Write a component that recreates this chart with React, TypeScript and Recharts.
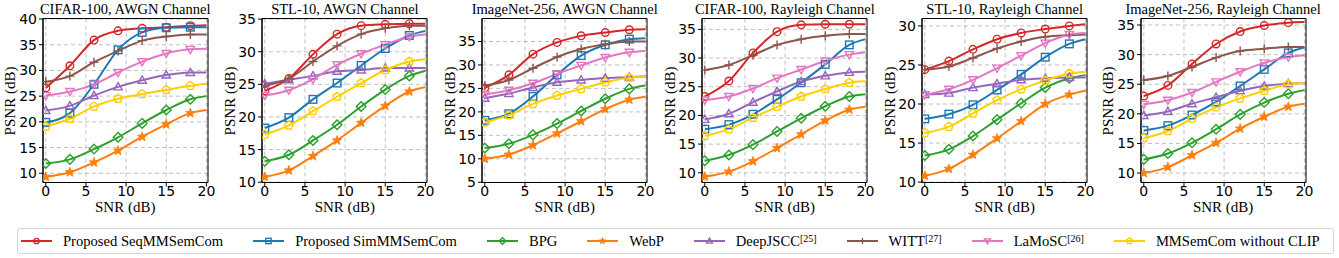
import React from 'react';
import { LineChart, Line, XAxis, YAxis, CartesianGrid, ReferenceArea } from 'recharts';

// SNR points; markers are drawn up to 18 dB, the curve runs on to 20 dB
const snr = [0, 3, 6, 9, 12, 15, 18, 20];

const seriesKeys = ['seq', 'sim', 'bpg', 'webp', 'deepjscc', 'witt', 'lamosc', 'noclip'];
const seriesNames = ['Proposed SeqMMSemCom', 'Proposed SimMMSemCom', 'BPG', 'WebP', 'DeepJSCC', 'WITT', 'LaMoSC', 'MMSemCom without CLIP'];
const seriesRefs = ['', '', '', '', '[25]', '[27]', '[26]', ''];

const panelTitles = [
  'CIFAR-100, AWGN Channel',
  'STL-10, AWGN Channel',
  'ImageNet-256, AWGN Channel',
  'CIFAR-100, Rayleigh Channel',
  'STL-10, Rayleigh Channel',
  'ImageNet-256, Rayleigh Channel',
];

// rows follow seriesKeys order
const cifarAwgn = [
  [26.6, 30.9, 35.9, 37.7, 38.2, 38.4, 38.7, 38.8],
  [19.9, 21.7, 27.3, 34.0, 37.4, 38.3, 38.4, 38.4],
  [11.9, 12.7, 14.7, 17.0, 19.7, 22.3, 24.4, 25.0],
  [9.3, 10.2, 12.1, 14.4, 17.1, 19.5, 21.7, 22.3],
  [22.2, 23.1, 25.1, 26.8, 28.1, 29.1, 29.6, 29.6],
  [27.8, 28.9, 31.6, 33.8, 35.8, 36.6, 37.0, 37.0],
  [25.1, 25.9, 27.3, 29.6, 31.7, 33.3, 34.1, 34.2],
  [19.1, 20.6, 23.0, 24.5, 25.4, 26.2, 27.0, 27.4],
];
const stlAwgn = [
  [24.0, 25.9, 29.6, 32.7, 34.0, 34.2, 34.3, 34.3],
  [18.3, 19.9, 22.7, 25.2, 27.9, 30.5, 32.5, 33.2],
  [13.2, 14.2, 16.4, 18.8, 21.6, 24.2, 26.3, 27.1],
  [10.8, 11.8, 14.0, 16.4, 19.1, 21.7, 23.9, 24.6],
  [25.1, 25.7, 26.3, 27.0, 27.2, 27.5, 27.5, 27.5],
  [24.8, 25.9, 28.5, 30.9, 32.7, 33.6, 34.0, 34.0],
  [23.3, 24.1, 25.8, 28.0, 29.7, 31.1, 32.3, 32.7],
  [17.3, 18.7, 20.9, 23.1, 25.2, 27.2, 28.5, 28.9],
];
const imagenetAwgn = [
  [25.1, 27.9, 32.3, 34.8, 36.2, 36.9, 37.5, 37.6],
  [18.2, 19.6, 23.3, 27.9, 32.0, 34.3, 35.5, 35.7],
  [12.3, 13.2, 15.1, 17.5, 20.2, 22.8, 24.9, 25.6],
  [10.0, 10.9, 12.9, 15.4, 18.0, 20.6, 22.6, 23.2],
  [22.9, 23.9, 25.2, 26.3, 26.8, 27.2, 27.4, 27.6],
  [25.6, 26.8, 29.3, 31.7, 33.4, 34.4, 35.0, 35.0],
  [23.7, 24.6, 26.1, 28.1, 29.9, 31.6, 32.7, 33.0],
  [17.8, 19.3, 21.7, 23.5, 24.9, 26.3, 27.3, 27.7],
];
const cifarRayleigh = [
  [23.3, 26.0, 30.9, 34.6, 35.8, 35.9, 35.9, 35.9],
  [17.6, 18.4, 20.2, 22.8, 25.7, 28.9, 32.3, 33.3],
  [12.1, 13.1, 14.9, 17.2, 19.5, 21.6, 23.3, 23.7],
  [9.3, 10.2, 12.0, 14.3, 16.7, 19.1, 21.0, 21.5],
  [19.3, 20.3, 22.3, 24.2, 25.9, 26.9, 27.5, 27.6],
  [27.9, 28.8, 30.5, 32.3, 33.3, 33.9, 34.2, 34.2],
  [22.7, 23.3, 24.7, 26.5, 28.0, 29.5, 30.6, 31.0],
  [16.4, 17.6, 19.6, 21.5, 23.3, 24.6, 25.7, 26.0],
];
const stlRayleigh = [
  [24.4, 25.5, 27.0, 28.3, 29.1, 29.6, 30.0, 30.2],
  [18.1, 18.7, 19.9, 21.8, 23.8, 26.0, 27.7, 28.3],
  [13.4, 14.2, 15.9, 18.0, 20.1, 22.1, 23.3, 23.7],
  [10.8, 11.7, 13.5, 15.6, 17.8, 20.0, 21.2, 21.7],
  [21.2, 21.4, 22.1, 22.6, 23.1, 23.3, 23.4, 23.4],
  [24.4, 24.8, 25.9, 27.1, 28.0, 28.6, 28.8, 28.9],
  [21.2, 21.9, 23.1, 24.6, 26.2, 27.8, 28.9, 29.1],
  [16.3, 17.1, 18.8, 20.5, 21.9, 23.0, 23.9, 24.1],
];
const imagenetRayleigh = [
  [23.0, 24.8, 28.4, 31.8, 33.9, 34.9, 35.4, 35.5],
  [17.2, 18.0, 19.8, 22.0, 24.7, 27.5, 30.3, 31.2],
  [12.3, 13.3, 15.1, 17.4, 19.9, 21.9, 23.4, 24.0],
  [10.0, 11.0, 13.0, 15.1, 17.5, 19.5, 21.2, 21.7],
  [19.7, 20.4, 21.7, 22.8, 23.9, 24.7, 25.1, 25.2],
  [25.7, 26.4, 27.9, 29.5, 30.6, 31.0, 31.3, 31.3],
  [21.6, 22.3, 23.6, 25.4, 27.1, 28.6, 29.6, 29.9],
  [15.9, 17.1, 19.2, 21.1, 22.6, 23.9, 25.0, 25.2],
];
const panelValues = [cifarAwgn, stlAwgn, imagenetAwgn, cifarRayleigh, stlRayleigh, imagenetRayleigh];

const xTicks = [0, 5, 10, 15, 20];
const yTicks = [
  [10, 15, 20, 25, 30, 35, 40],
  [10, 15, 20, 25, 30, 35],
  [5, 10, 15, 20, 25, 30, 35],
  [10, 15, 20, 25, 30, 35],
  [10, 15, 20, 25, 30],
  [10, 15, 20, 25, 30, 35],
];
const yDomains: [number, number][] = [
  [8.2, 40.1],
  [9.95, 35.1],
  [4.95, 39.9],
  [8.3, 36.9],
  [9.95, 30.95],
  [8.4, 36.1],
];
const xDomain: [number, number] = [-0.35, 20.2];

// layout / style
const plotLefts = [42.7, 262.4, 482.3, 702.3, 922.2, 1140.6];
const plotW = 165;
const plotTop = 18.5;
const plotH = 164;
const yAxisW = 46;
const rightPad = 14;
const colors = ['#d62728', '#1f77b4', '#2ca02c', '#ff7f0e', '#9467bd', '#8c564b', '#e377c2', '#ffcf00'];
const markers = ['circle', 'square', 'diamond', 'star', 'triUp', 'plus', 'triDown', 'pentagon'];
const serif = '"Liberation Serif", "Times New Roman", serif';
const sans = '"DejaVu Sans", sans-serif';

function polyPoints(cx: number, cy: number, r: number, n: number, rot: number, inner?: number) {
  const pts: string[] = [];
  const count = inner ? n * 2 : n;
  for (let i = 0; i < count; i++) {
    const rr = inner && i % 2 === 1 ? inner : r;
    const a = rot + (i * Math.PI * 2) / count;
    pts.push(`${cx + rr * Math.sin(a)},${cy - rr * Math.cos(a)}`);
  }
  return pts.join(' ');
}

function Marker({ kind, cx, cy, color, s = 1 }: { kind: string; cx: number; cy: number; color: string; s?: number }) {
  const sw = 1.4;
  switch (kind) {
    case 'circle':
      return <circle cx={cx} cy={cy} r={3.8 * s} fill="none" stroke={color} strokeWidth={sw} />;
    case 'square':
      return <rect x={cx - 3.8 * s} y={cy - 3.8 * s} width={7.6 * s} height={7.6 * s} fill="none" stroke={color} strokeWidth={sw} />;
    case 'diamond':
      return <polygon points={polyPoints(cx, cy, 4.8 * s, 4, 0)} fill="none" stroke={color} strokeWidth={sw} />;
    case 'star':
      return <polygon points={polyPoints(cx, cy, 5 * s, 5, 0, 2.1 * s)} fill={color} stroke={color} strokeWidth={0.8} />;
    case 'triUp':
      return <polygon points={polyPoints(cx, cy + 0.6 * s, 4.8 * s, 3, 0)} fill="none" stroke={color} strokeWidth={sw} />;
    case 'triDown':
      return <polygon points={polyPoints(cx, cy - 0.6 * s, 4.8 * s, 3, Math.PI)} fill="none" stroke={color} strokeWidth={sw} />;
    case 'plus':
      return (
        <g stroke={color} strokeWidth={sw}>
          <line x1={cx - 4.5 * s} y1={cy} x2={cx + 4.5 * s} y2={cy} />
          <line x1={cx} y1={cy - 4.5 * s} x2={cx} y2={cy + 4.5 * s} />
        </g>
      );
    default:
      return <polygon points={polyPoints(cx, cy, 4.4 * s, 5, 0)} fill="none" stroke={color} strokeWidth={sw} />;
  }
}

function Panel({ idx }: { idx: number }) {
  const values = panelValues[idx];
  const rows = snr.map((x, i) => {
    const r: Record<string, number> = { snr: x };
    seriesKeys.forEach((k, s) => {
      r[k] = values[s][i];
    });
    return r;
  });
  const left = plotLefts[idx];
  const [y0, y1] = yDomains[idx];
  return (
    <>
      <div style={{ position: 'absolute', left: left - yAxisW, top: 0 }}>
        <LineChart
          width={yAxisW + plotW + rightPad}
          height={plotTop + plotH + 16}
          data={rows}
          margin={{ top: plotTop, right: rightPad, bottom: 0, left: 0 }}
        >
          <CartesianGrid stroke="#b0b0b0" strokeDasharray="4 3" strokeWidth={0.8} />
          <XAxis
            dataKey="snr"
            type="number"
            domain={xDomain}
            ticks={xTicks}
            interval={0}
            allowDataOverflow
            height={16}
            tickSize={4}
            tickMargin={0}
            tick={{ fontSize: 14, fill: '#000', fontFamily: sans }}
            tickLine={{ stroke: '#000' }}
            axisLine={{ stroke: '#000' }}
          />
          <YAxis
            type="number"
            domain={yDomains[idx]}
            ticks={yTicks[idx]}
            interval={0}
            allowDataOverflow
            width={yAxisW}
            tickSize={4}
            tickMargin={2}
            tick={{ fontSize: 14, fill: '#000', fontFamily: sans }}
            tickLine={{ stroke: '#000' }}
            axisLine={{ stroke: '#000' }}
          />
          {seriesKeys.map((k, s) => (
            <Line
              key={k}
              dataKey={k}
              type="monotone"
              stroke={colors[s]}
              strokeWidth={2}
              isAnimationActive={false}
              activeDot={false}
              dot={(p: any) =>
                p.payload.snr > 18 ? (
                  <g key={`${k}-${p.index}`} />
                ) : (
                  <g key={`${k}-${p.index}`}>
                    <Marker kind={markers[s]} cx={p.cx} cy={p.cy} color={colors[s]} />
                  </g>
                )
              }
            />
          ))}
          <ReferenceArea x1={xDomain[0]} x2={xDomain[1]} y1={y0} y2={y1} fill="none" stroke="#000" strokeWidth={1} strokeOpacity={1} />
        </LineChart>
      </div>
      <div
        style={{
          position: 'absolute',
          left: left + plotW / 2,
          top: 2,
          transform: 'translateX(-50%)',
          whiteSpace: 'nowrap',
          fontFamily: serif,
          fontSize: 14.5,
          lineHeight: '15px',
        }}
      >
        {panelTitles[idx]}
      </div>
      <div
        style={{
          position: 'absolute',
          left: left + plotW / 2,
          top: 200,
          transform: 'translateX(-50%)',
          whiteSpace: 'nowrap',
          fontFamily: serif,
          fontSize: 15,
          lineHeight: '14px',
        }}
      >
        SNR (dB)
      </div>
      <div
        style={{
          position: 'absolute',
          left: left - 32.5,
          top: plotTop + plotH / 2,
          transform: 'translate(-50%, -50%) rotate(-90deg)',
          whiteSpace: 'nowrap',
          fontFamily: serif,
          fontSize: 15,
          lineHeight: '15px',
        }}
      >
        PSNR (dB)
      </div>
    </>
  );
}

function LegendBox() {
  return (
    <div
      style={{
        position: 'absolute',
        left: 17,
        top: 228,
        width: 1317,
        height: 26,
        border: '1px solid #d6d6d6',
        borderRadius: 3,
        boxSizing: 'border-box',
        display: 'flex',
        alignItems: 'center',
        paddingLeft: 3,
        gap: 30,
        fontFamily: serif,
        fontSize: 14.6,
        whiteSpace: 'nowrap',
      }}
    >
      {seriesNames.map((name, s) => (
        <div key={name} style={{ display: 'flex', alignItems: 'center', gap: 11 }}>
          <svg width={31} height={12} style={{ display: 'block' }}>
            <line x1={0} y1={6} x2={31} y2={6} stroke={colors[s]} strokeWidth={2} />
            <Marker kind={markers[s]} cx={15.5} cy={6} color={colors[s]} s={0.7} />
          </svg>
          <span style={{ lineHeight: '15px' }}>
            {name}
            {seriesRefs[s] && <sup style={{ fontSize: 10, verticalAlign: '0.45em', lineHeight: 0 }}>{seriesRefs[s]}</sup>}
          </span>
        </div>
      ))}
    </div>
  );
}

export default function App() {
  return (
    <div style={{ position: 'absolute', left: 0, top: 0, width: 1339, height: 258, background: '#fff', overflow: 'hidden' }}>
      {panelTitles.map((_, i) => (
        <Panel key={i} idx={i} />
      ))}
      <LegendBox />
    </div>
  );
}
